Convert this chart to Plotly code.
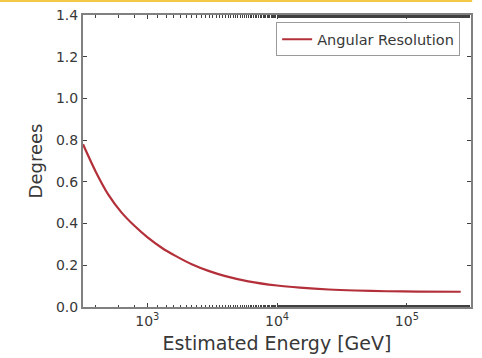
import plotly.graph_objects as go

# Data
energy_gev = [320, 400, 500, 630, 800, 1000, 1300, 1650, 2200, 3000, 4000,
              6000, 10000, 15000, 25000, 40000, 70000, 120000, 260000]
degrees = [0.78, 0.65, 0.54, 0.455, 0.388, 0.335, 0.283, 0.245, 0.205, 0.172,
           0.148, 0.123, 0.103, 0.093, 0.084, 0.079, 0.0755, 0.074, 0.073]
series_name = "Angular Resolution"
x_tickvals = [1e3, 1e4, 1e5]
x_ticktext = ["10<sup>3</sup>", "10<sup>4</sup>", "10<sup>5</sup>"]
y_tickvals = [0.0, 0.2, 0.4, 0.6, 0.8, 1.0, 1.2, 1.4]

font_family = "DejaVu Sans"
axis_col = "#808080"
text_col = "#383838"

fig = go.Figure()
fig.add_trace(go.Scatter(
    x=energy_gev, y=degrees, mode="lines", name=series_name,
    line=dict(color="#b3303a", width=2.2, shape="spline", smoothing=0.8),
))

axis_common = dict(
    showgrid=False, zeroline=False, showline=True, linecolor=axis_col,
    linewidth=2, mirror="ticks", ticks="inside", tickcolor="#404040",
    tickfont=dict(family=font_family, size=14, color=text_col),
    automargin=False,
)

fig.update_xaxes(
    type="log", range=[2.505, 5.494], tickvals=x_tickvals, ticktext=x_ticktext,
    ticklen=4, tickwidth=1,
    minor=dict(ticks="inside", ticklen=2.5, tickcolor="#404040", showgrid=False),
    title=dict(text="Estimated Energy [GeV]", standoff=9,
               font=dict(family=font_family, size=19, color=text_col)),
    **axis_common,
)
fig.update_yaxes(
    range=[0, 1.4], tickvals=y_tickvals, tickformat=".1f", ticklen=4, tickwidth=1,
    title=dict(text="Degrees", standoff=9,
               font=dict(family=font_family, size=18, color=text_col)),
    **axis_common,
)

fig.update_layout(
    width=482, height=358,
    margin=dict(l=83, r=11, t=15, b=51),
    paper_bgcolor="white", plot_bgcolor="white",
    showlegend=True,
    legend=dict(
        x=0.972, y=0.975, xanchor="right", yanchor="top",
        bgcolor="white", bordercolor="#9a9a9a", borderwidth=1,
        font=dict(family=font_family, size=14.5, color=text_col),
        itemwidth=30,
    ),
    shapes=[dict(type="line", xref="paper", yref="paper",
                 x0=-0.214, x1=1.003, y0=1.048, y1=1.048,
                 line=dict(color="#f3c94a", width=2))],
)

fig.write_html("out.html")
